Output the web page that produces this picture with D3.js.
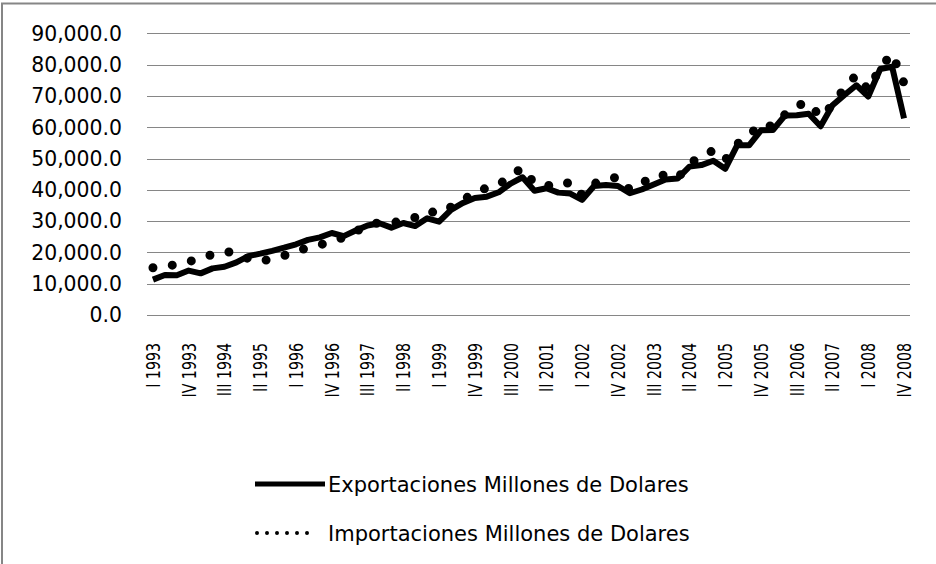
<!DOCTYPE html>
<html>
<head>
<meta charset="utf-8">
<script src="https://cdn.jsdelivr.net/npm/d3@7"></script>
<style>
  body { margin: 0; background: #fff; }
  svg { display: block; }
  text { font-family: "DejaVu Sans", sans-serif; fill: #000; }
</style>
</head>
<body>
<div id="chart"></div>
<script>
// quarters 1993 - 2008
var years = [1993, 1994, 1995, 1996, 1997, 1998, 1999, 2000,
             2001, 2002, 2003, 2004, 2005, 2006, 2007, 2008];
var quarters = ["I", "II", "III", "IV"];

var exportaciones = [
    11300, 12800, 12700, 14200,   // 1993
    13300, 14900, 15400, 16800,   // 1994
    18800, 19600, 20500, 21500,   // 1995
    22600, 24000, 24800, 26200,   // 1996
    25200, 27000, 28600, 29300,   // 1997
    27900, 29400, 28400, 30900,   // 1998
    29800, 33600, 35800, 37400,   // 1999
    37800, 39200, 42000, 44000,   // 2000
    39700, 40500, 39100, 38800,   // 2001
    36800, 41200, 41500, 41200,   // 2002
    38900, 40100, 41700, 43300,   // 2003
    43600, 47400, 47900, 49300,   // 2004
    46700, 54200, 54200, 59000,   // 2005
    59100, 63700, 63800, 64300,   // 2006
    60300, 67000, 70300, 73400,   // 2007
    69800, 78600, 79300, 62800    // 2008
];

var importaciones = [
    15100, 15500, 16200, 17000,
    18300, 19300, 20300, 19800,
    18000, 17100, 18000, 19000,
    20300, 21500, 22400, 23500,
    24800, 26600, 28800, 29500,
    29500, 30000, 31200, 33200,
    32500, 34500, 36500, 39500,
    40500, 41500, 44700, 46900,
    42000, 41500, 41000, 42500,
    38300, 42000, 43000, 44200,
    40000, 42000, 44500, 44700,
    43700, 48200, 51000, 52500,
    49500, 54600, 57500, 61000,
    60200, 64000, 67000, 67800,
    63200, 67100, 72500, 76700,
    71900, 79000, 83500, 74000
];

var yTicks = [0, 10000, 20000, 30000, 40000, 50000, 60000, 70000, 80000, 90000];
var seriesNames = ["Exportaciones Millones de Dolares", "Importaciones Millones de Dolares"];

var categories = [];
years.forEach(function(y) {
    quarters.forEach(function(q) { categories.push(q + " " + y); });
});

var W = 936, H = 564;
var svg = d3.select("#chart").append("svg")
    .attr("width", W)
    .attr("height", H);

// chart frame (only left / top edges show inside the picture)
svg.append("rect")
    .attr("x", 2).attr("y", 3.5)
    .attr("width", 1000).attr("height", 1000)
    .attr("fill", "none")
    .attr("stroke", "#868686")
    .attr("stroke-width", 2);

var x = d3.scaleBand()
    .domain(d3.range(categories.length))
    .range([147, 910]);
var cx = function(i) { return x(i) + x.bandwidth() / 2; };

var y = d3.scaleLinear()
    .domain([0, 90000])
    .range([315, 33.3]);

// gridlines
svg.append("g").selectAll("line")
    .data(yTicks)
    .enter().append("line")
    .attr("x1", 147).attr("x2", 910)
    .attr("y1", function(d) { return Math.round(y(d)) + 0.5; })
    .attr("y2", function(d) { return Math.round(y(d)) + 0.5; })
    .attr("stroke", "#868686")
    .attr("stroke-width", 1.2);

var fmt = d3.format(",.1f");
svg.append("g").selectAll("text")
    .data(yTicks)
    .enter().append("text")
    .attr("x", 122)
    .attr("y", function(d) { return y(d); })
    .attr("dy", "0.36em")
    .attr("text-anchor", "end")
    .attr("font-size", "20.4px")
    .text(fmt);

// category labels, every third quarter
var labelIdx = d3.range(0, categories.length, 3);
svg.append("g").selectAll("text")
    .data(labelIdx)
    .enter().append("text")
    .attr("transform", function(i) {
        return "translate(" + cx(i) + ",343) scale(1.35,1) rotate(-90)";
    })
    .attr("dy", "0.36em")
    .attr("text-anchor", "end")
    .attr("font-size", "14.2px")
    .text(function(i) { return categories[i]; });

var line = d3.line()
    .x(function(d, i) { return cx(i); })
    .y(function(d) { return y(d); });

svg.append("path")
    .datum(exportaciones)
    .attr("d", line)
    .attr("fill", "none")
    .attr("stroke", "#000")
    .attr("stroke-width", 6)
    .attr("stroke-linejoin", "round");

svg.append("path")
    .datum(importaciones)
    .attr("d", line)
    .attr("fill", "none")
    .attr("stroke", "#000")
    .attr("stroke-width", 9)
    .attr("stroke-linecap", "round")
    .attr("stroke-dasharray", "0 19.5");

// legend
var legend = svg.append("g");
legend.append("line")
    .attr("x1", 255).attr("x2", 325)
    .attr("y1", 484).attr("y2", 484)
    .attr("stroke", "#000")
    .attr("stroke-width", 5);
legend.append("line")
    .attr("x1", 257).attr("x2", 317)
    .attr("y1", 533).attr("y2", 533)
    .attr("stroke", "#000")
    .attr("stroke-width", 4)
    .attr("stroke-linecap", "round")
    .attr("stroke-dasharray", "0 10");
legend.selectAll("text")
    .data(seriesNames)
    .enter().append("text")
    .attr("x", 328)
    .attr("y", function(d, i) { return 484 + i * 49; })
    .attr("dy", "0.36em")
    .attr("font-size", "21px")
    .text(String);
</script>
</body>
</html>
